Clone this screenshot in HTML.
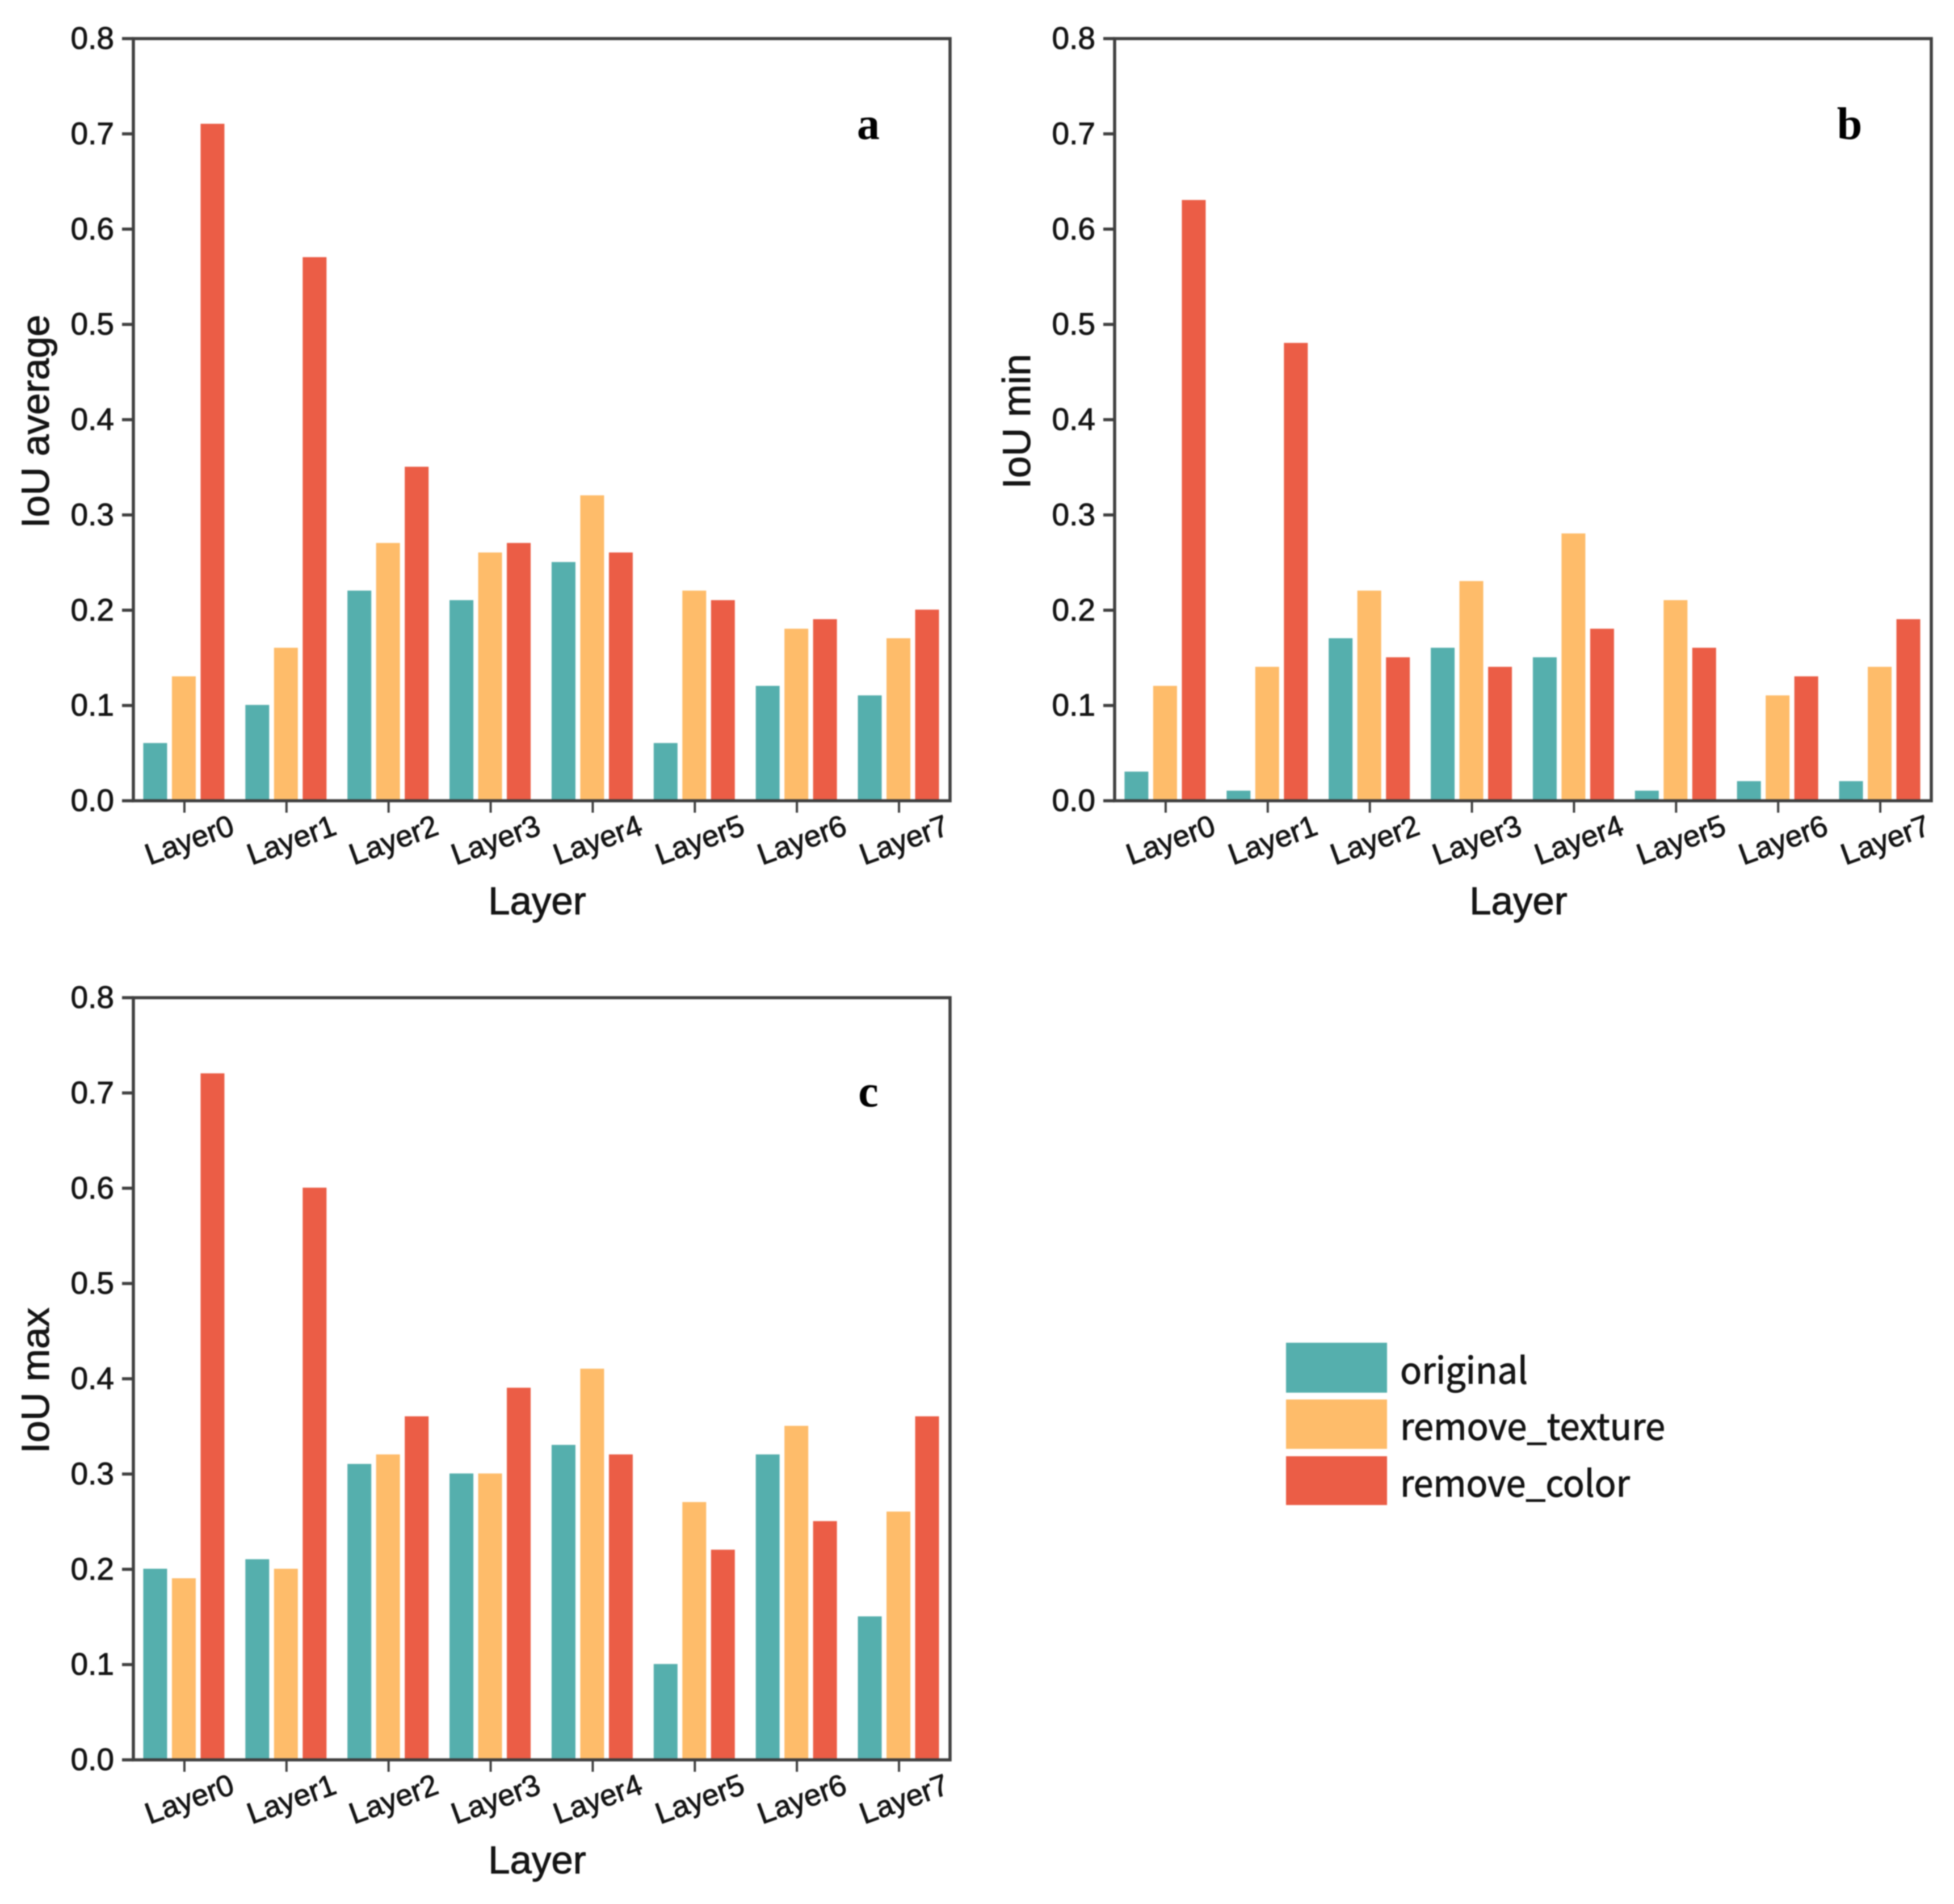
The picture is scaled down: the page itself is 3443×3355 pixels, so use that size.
<!DOCTYPE html>
<html lang="en">
<head>
<meta charset="utf-8">
<title>IoU by layer</title>
<style>
html,body{margin:0;padding:0;background:#fff;}
body{width:3443px;height:3355px;overflow:hidden;}
svg{display:block;filter:blur(1.1px);}
text{fill:#141414;stroke:#141414;stroke-width:1px;}
.tick{font-family:"Liberation Sans",Arial,sans-serif;font-size:55px;}
.cat{font-family:"Liberation Sans",Arial,sans-serif;font-size:53px;}
.title{font-family:"Liberation Sans",Arial,sans-serif;font-size:69px;}
.letter{font-family:"Liberation Serif",serif;font-weight:bold;font-size:80px;fill:#000;stroke:none;}
.leg{font-family:"Noto Sans CJK SC","Liberation Sans",sans-serif;font-size:64px;}
</style>
</head>
<body>
<svg id="chart" xmlns="http://www.w3.org/2000/svg" width="3443" height="3355" viewBox="0 0 3443 3355">
  <rect x="0" y="0" width="3443" height="3355" fill="#ffffff"/>
  <g id="panels"></g>
  <g>
    <g>
      <rect x="2266" y="2366" width="178" height="88" fill="#55AFAD"/>
      <text class="leg" x="2467" y="2438" textLength="225" lengthAdjust="spacingAndGlyphs">original</text>
    </g>
    <g>
      <rect x="2266" y="2466" width="178" height="87" fill="#FEBC6A"/>
      <text class="leg" x="2467" y="2537" textLength="467" lengthAdjust="spacingAndGlyphs">remove_texture</text>
    </g>
    <g>
      <rect x="2266" y="2566" width="178" height="86" fill="#EB5D46"/>
      <text class="leg" x="2467" y="2637" textLength="405" lengthAdjust="spacingAndGlyphs">remove_color</text>
    </g>
  </g>
</svg>
<script>
var categories = ["Layer0","Layer1","Layer2","Layer3","Layer4","Layer5","Layer6","Layer7"];
var tickValues = [0,0.1,0.2,0.3,0.4,0.5,0.6,0.7,0.8];
var tickLabels = ["0.0","0.1","0.2","0.3","0.4","0.5","0.6","0.7","0.8"];
var seriesNames = ["original","remove_texture","remove_color"];
var seriesColors = ["#55AFAD","#FEBC6A","#EB5D46"];

var avgOriginal = [0.06,0.10,0.22,0.21,0.25,0.06,0.12,0.11];
var avgTexture  = [0.13,0.16,0.27,0.26,0.32,0.22,0.18,0.17];
var avgColor    = [0.71,0.57,0.35,0.27,0.26,0.21,0.19,0.20];

var minOriginal = [0.03,0.01,0.17,0.16,0.15,0.01,0.02,0.02];
var minTexture  = [0.12,0.14,0.22,0.23,0.28,0.21,0.11,0.14];
var minColor    = [0.63,0.48,0.15,0.14,0.18,0.16,0.13,0.19];

var maxOriginal = [0.20,0.21,0.31,0.30,0.33,0.10,0.32,0.15];
var maxTexture  = [0.19,0.20,0.32,0.30,0.41,0.27,0.35,0.26];
var maxColor    = [0.72,0.60,0.36,0.39,0.32,0.22,0.25,0.36];

var SVGNS = "http://www.w3.org/2000/svg";
var AXIS = "#404040";
var root = document.getElementById("panels");

function make(parent, tag, attrs, txt) {
  var n = document.createElementNS(SVGNS, tag);
  for (var k in attrs) { n.setAttribute(k, attrs[k]); }
  if (txt !== undefined) { n.textContent = txt; }
  parent.appendChild(n);
  return n;
}

function drawPanel(key, letter, yTitle, series, left, top, letterY) {
  var W = 1439, H = 1343, vMax = 0.8, bottom = top + H, right = left + W;
  function xBand(i) { return left + W * (i + 0.5) / categories.length; }
  function yScale(v) { return bottom - v / vMax * H; }
  var pitch = 50.5, bw = 42, barShift = -1;

  var panel = make(root, "g", {});
  
  

  series.forEach(function (vals, s) {
    vals.forEach(function (v, i) {
      var bar = make(panel, "rect", {
        x: xBand(i) + barShift + (s - 1) * pitch - bw / 2,
        y: yScale(v) - 1,
        width: bw,
        height: bottom - yScale(v) + 1,
        fill: seriesColors[s]
      });
      
      
    });
  });

  var frame = make(panel, "rect", { x: left, y: top, width: W, height: H, fill: "none", stroke: AXIS, "stroke-width": 5.5 });
  
  

  tickValues.forEach(function (v, i) {
    var y = yScale(v);
    var tick = make(panel, "line", { x1: left - 20, x2: left, y1: y, y2: y, stroke: AXIS, "stroke-width": 5.5 });
    
    
    var lab = make(panel, "text", { "class": "tick", x: left - 34, y: y + 18, "text-anchor": "end" }, tickLabels[i]);
    
    
  });

  categories.forEach(function (c, i) {
    var x = xBand(i);
    var tick = make(panel, "line", { x1: x, x2: x, y1: bottom, y2: bottom + 21, stroke: AXIS, "stroke-width": 4 });
    
    
    var cx = x + 9, cy = bottom + 70;
    var lab = make(panel, "text", {
      "class": "cat", x: cx, y: cy + 17, "text-anchor": "middle",
      transform: "rotate(-20 " + cx + " " + cy + ")"
    }, c);
    
    
  });

  var xt = make(panel, "text", { "class": "title", x: left + W / 2 - 8, y: bottom + 200, "text-anchor": "middle" }, "Layer");
  
  

  var ty = top + H / 2 + 3, tx = left - 149;
  var yt = make(panel, "text", { "class": "title", x: tx, y: ty, "text-anchor": "middle", transform: "rotate(-90 " + tx + " " + ty + ")" }, yTitle);
  
  

  var pl = make(panel, "text", { "class": "letter", x: left + 1295, y: letterY, "text-anchor": "middle" }, letter);
  
  
}

drawPanel("a", "a", "IoU average", [avgOriginal, avgTexture, avgColor], 235, 68, 245);
drawPanel("b", "b", "IoU min", [minOriginal, minTexture, minColor], 1964, 68, 245);
drawPanel("c", "c", "IoU max", [maxOriginal, maxTexture, maxColor], 235, 1758, 1950);
</script>
</body>
</html>
